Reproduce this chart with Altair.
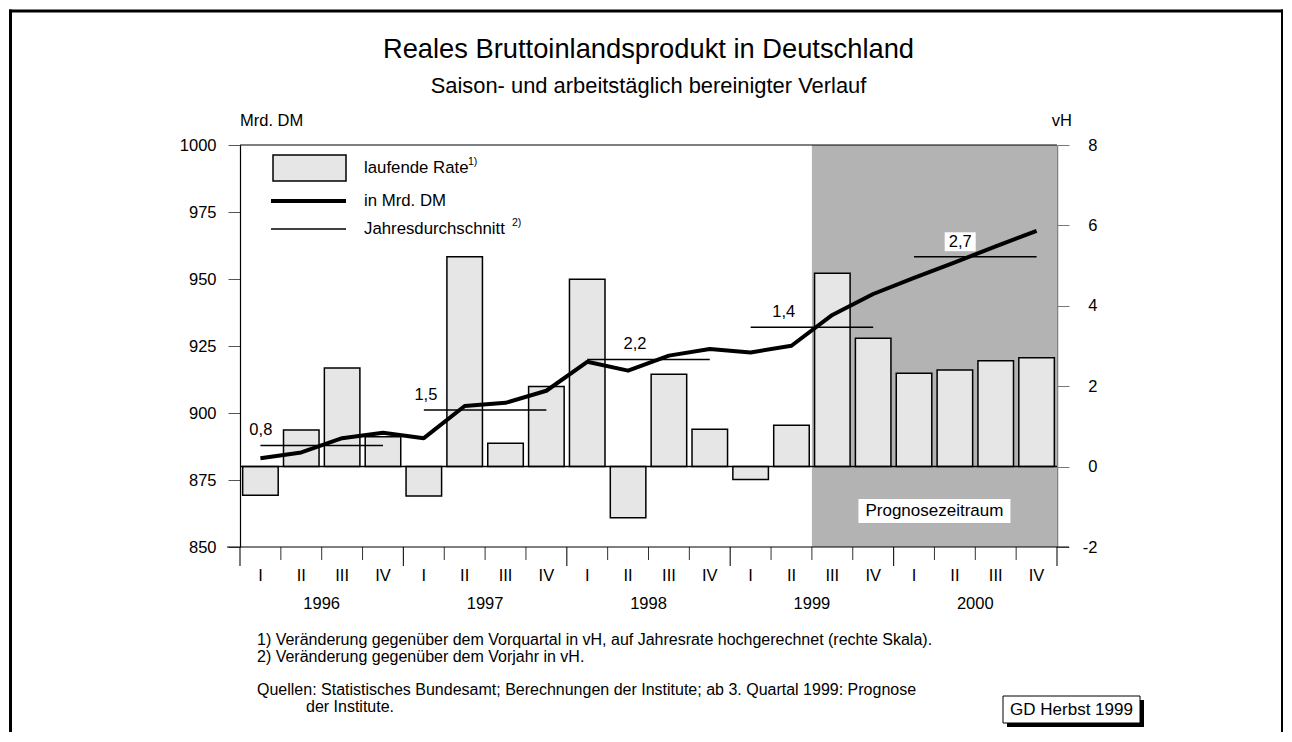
import altair as alt
import pandas as pd

# ---------------- data ----------------
quarter_labels = ["I", "II", "III", "IV"]
years = ["1996", "1997", "1998", "1999", "2000"]
# laufende Rate (vH, right scale), quarters 1996 I ... 2000 IV
rate = [-0.71, 0.91, 2.45, 0.74, -0.73, 5.22, 0.58, 1.99, 4.66, -1.27,
        2.30, 0.93, -0.32, 1.03, 4.81, 3.19, 2.32, 2.40, 2.63, 2.71]
# real GDP level (Mrd. DM, left scale)
level = [883.1, 885.3, 890.6, 892.6, 890.6, 902.6, 903.8, 908.3, 919.1, 915.8,
         921.4, 923.9, 922.6, 925.1, 936.6, 944.4, 950.4, 956.2, 962.2, 968.0]
# annual averages (level) and their growth labels
annual_level = [887.9, 901.1, 920.0, 932.0, 958.3]
annual_growth = ["0,8", "1,5", "2,2", "1,4", "2,7"]
label_quarter = [0.51, 0.55, 1.67, 1.31, 1.63]  # label anchor within year (quarter units)
forecast_start = 14  # 1999 III
left_ticks = [850, 875, 900, 925, 950, 975, 1000]
right_ticks = [-2, 0, 2, 4, 6, 8]

footnotes = [
    "1) Veränderung gegenüber dem Vorquartal in vH, auf Jahresrate hochgerechnet (rechte Skala).",
    "2) Veränderung gegenüber dem Vorjahr in vH.",
    "Quellen: Statistisches Bundesamt; Berechnungen der Institute; ab 3. Quartal 1999: Prognose",
    "der Institute.",
]

# ---------------- tables ----------------
n = len(rate)
q = pd.DataFrame({
    "x0": [i + 0.065 for i in range(n)],
    "x1": [i + 0.935 for i in range(n)],
    "xc": [i + 0.5 for i in range(n)],
    "rate": rate,
    "base": [0] * n,
    "level": level,
    "qlabel": [quarter_labels[i % 4] for i in range(n)],
})
ann = pd.DataFrame({
    "start": [4 * k + 0.5 for k in range(len(years))],
    "end": [4 * k + 3.5 for k in range(len(years))],
    "avg": annual_level,
    "label": annual_growth,
    "lx": [4 * k + p for k, p in enumerate(label_quarter)],
})
ann["forecast"] = ann["lx"] >= forecast_start
yr = pd.DataFrame({"year": years, "xc": [4 * k + 2 for k in range(len(years))]})
ticks = pd.DataFrame({"t": list(range(n + 1))})
ticks["major"] = ticks["t"] % 4 == 0

F = "Liberation Sans"
W, H = 817, 402
xs = alt.Scale(domain=[0, n], nice=False, zero=False)
ls = alt.Scale(domain=[850, 1000], nice=False, zero=False)
rs = alt.Scale(domain=[-2, 8], nice=False, zero=False)
one = pd.DataFrame({"a": [0]})


def txt(s, x, y, size=16.5, align="left", **kw):
    return alt.Chart(one).mark_text(text=s, font=F, fontSize=size, align=align,
                                    baseline="middle", color="black", **kw).encode(
        x=alt.value(x), y=alt.value(y))


def rule(x, x2, y, y2, w=1.0, color="black"):
    return alt.Chart(one).mark_rule(color=color, strokeWidth=w).encode(
        x=alt.value(x), x2=alt.value(x2), y=alt.value(y), y2=alt.value(y2))


def box(x, x2, y, y2, fill="white", stroke=None, w=1.0):
    kw = {"fill": fill}
    if stroke:
        kw.update(stroke=stroke, strokeWidth=w)
    return alt.Chart(one).mark_rect(**kw).encode(
        x=alt.value(x), x2=alt.value(x2), y=alt.value(y), y2=alt.value(y2))


plain_label = "datum.value < 0 ? '-' + abs(datum.value) : '' + datum.value"

right_axis = alt.Axis(orient="right", values=right_ticks, tickSize=12,
                      tickColor="#777777", domainColor="#808080", domainWidth=1.5,
                      labelFont=F, labelFontSize=16.5, labelColor="black",
                      labelAlign="right", labelPadding=28, grid=False, title=None,
                      labelFlush=False, labelOverlap=False, labelExpr=plain_label)
left_axis = alt.Axis(orient="left", values=left_ticks,
                     tickSize=12, tickColor="#555555", domainColor="black",
                     domainWidth=1.2, labelFont=F, labelFontSize=16.5,
                     labelColor="black", labelPadding=12, grid=False, title=None,
                     labelFlush=False, labelOverlap=False, labelExpr=plain_label)

# ---------------- marks on the right (vH) scale ----------------
shade = alt.Chart(pd.DataFrame({"a": [forecast_start], "b": [n]})).mark_rect(
    color="#b3b3b3").encode(
    x=alt.X("a:Q", scale=xs, axis=None), x2="b:Q",
    y=alt.value(0), y2=alt.value(H))

bars = alt.Chart(q).mark_rect(fill="#e6e6e6", stroke="black", strokeWidth=1.5).encode(
    x=alt.X("x0:Q", scale=xs, axis=None), x2="x1:Q",
    y=alt.Y("rate:Q", scale=rs, axis=right_axis), y2="base:Q")

zero = alt.Chart(pd.DataFrame({"v": [0]})).mark_rule(color="black", strokeWidth=1.5).encode(
    y=alt.Y("v:Q", scale=rs, axis=None), x=alt.value(0), x2=alt.value(W))

# ---------------- marks on the left (Mrd. DM) scale ----------------
line = alt.Chart(q).mark_line(color="black", strokeWidth=4, strokeJoin="round").encode(
    x=alt.X("xc:Q", scale=xs, axis=None),
    y=alt.Y("level:Q", scale=ls, axis=left_axis))

avg = alt.Chart(ann).mark_rule(color="black", strokeWidth=1.5).encode(
    x=alt.X("start:Q", scale=xs, axis=None), x2="end:Q",
    y=alt.Y("avg:Q", scale=ls, axis=None))

label_boxes = alt.Chart(ann).transform_filter("datum.forecast").mark_point(
    shape="M-1,-0.61L1,-0.61L1,0.61L-1,0.61Z", size=31 * 31, filled=True,
    fill="white", opacity=1, strokeWidth=0, yOffset=-15).encode(
    x=alt.X("lx:Q", scale=xs, axis=None), y=alt.Y("avg:Q", scale=ls, axis=None))

labels = alt.Chart(ann).mark_text(font=F, fontSize=16.5, dy=-15, color="black").encode(
    x=alt.X("lx:Q", scale=xs, axis=None), y=alt.Y("avg:Q", scale=ls, axis=None),
    text="label:N")

prog_box = alt.Chart(pd.DataFrame({"x": [17]})).mark_point(
    shape="M-1,-0.158L1,-0.158L1,0.158L-1,0.158Z", size=152 * 152, filled=True,
    fill="white", opacity=1, strokeWidth=0).encode(
    x=alt.X("x:Q", scale=xs, axis=None), y=alt.value(366))
prog_txt = alt.Chart(pd.DataFrame({"x": [17], "t": ["Prognosezeitraum"]})).mark_text(
    font=F, fontSize=17, color="black", baseline="middle").encode(
    x=alt.X("x:Q", scale=xs, axis=None), y=alt.value(366), text="t:N")

# x axis decorations
minor_ticks = alt.Chart(ticks).transform_filter("!datum.major").mark_rule(
    color="#333333", strokeWidth=1).encode(
    x=alt.X("t:Q", scale=xs, axis=None), y=alt.value(H), y2=alt.value(H + 13))
major_ticks = alt.Chart(ticks).transform_filter("datum.major").mark_rule(
    color="#222222", strokeWidth=1.2).encode(
    x=alt.X("t:Q", scale=xs, axis=None), y=alt.value(H), y2=alt.value(H + 19))
qtext = alt.Chart(q).mark_text(font=F, fontSize=16.5, color="black", baseline="middle").encode(
    x=alt.X("xc:Q", scale=xs, axis=None), y=alt.value(H + 29), text="qlabel:N")
ytext = alt.Chart(yr).mark_text(font=F, fontSize=16.5, color="black", baseline="middle").encode(
    x=alt.X("xc:Q", scale=xs, axis=None), y=alt.value(H + 57), text="year:N")

deco = [
    rule(0, W, 0, 0, 1.2),                      # top border of plot
    rule(-13, W + 12, H, H, 1.2),                # bottom axis line
    # legend
    box(33, 106, 10, 36, fill="#e6e6e6", stroke="black", w=1.5),
    rule(31, 106, 56, 56, 4),
    rule(31, 106, 84, 84, 1.5),
    txt("laufende Rate", 124, 23, size=16.8),
    txt("1)", 228, 17, size=10.5),
    txt("in Mrd. DM", 124, 56, size=16.8),
    txt("Jahresdurchschnitt", 124, 84, size=16.8),
    txt("2)", 272, 78, size=10.5),
    # titles
    txt("Reales Bruttoinlandsprodukt in Deutschland", W / 2, -95, size=27.3, align="center"),
    txt("Saison- und arbeitstäglich bereinigter Verlauf", W / 2, -59, size=21.9, align="center"),
    txt("Mrd. DM", 0, -24),
    txt("vH", W + 15, -24, align="right"),
    # footnotes
    txt(footnotes[0], 17, 495, size=16),
    txt(footnotes[1], 17, 512, size=16),
    txt(footnotes[2], 17, 545, size=16),
    txt(footnotes[3], 66, 562, size=16),
    # GD box
    box(767, 904, 555, 582, fill="black"),
    box(763, 900, 551, 578, fill="white", stroke="black", w=1),
    txt("GD Herbst 1999", 831.5, 565, size=17, align="center"),
    # outer frame
    rule(-229.5, -229.5, -135.5, 600, 3),
    rule(1042.5, 1042.5, -135.5, 600, 3),
    rule(-231, 1044, -134, -134, 3),
]

layers = [shade, bars, zero, line, avg, label_boxes, labels, prog_box, prog_txt,
          minor_ticks, major_ticks, qtext, ytext] + deco

chart = alt.layer(*layers).resolve_scale(y="independent").properties(
    width=W, height=H,
    padding={"left": 232, "top": 137, "right": 226, "bottom": 185},
    autosize=alt.AutoSizeParams(type="none"),
    background="white",
).configure_view(stroke=None)

chart.save("out.html", embed_options={"renderer": "svg", "actions": False})
